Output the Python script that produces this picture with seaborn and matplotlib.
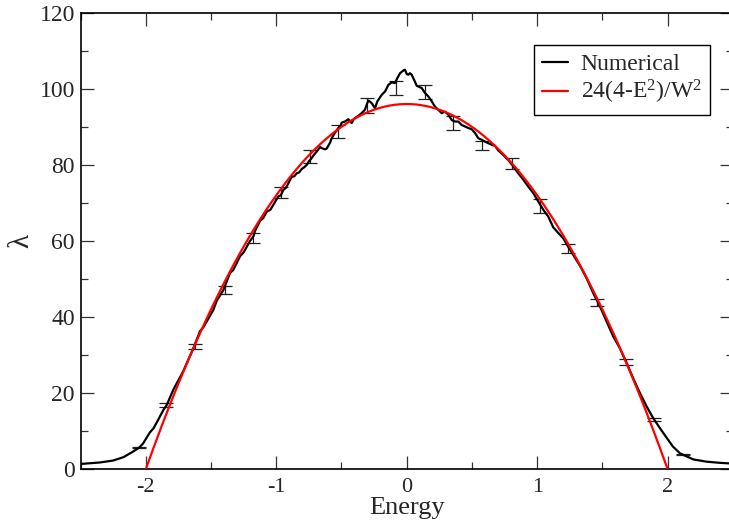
import numpy as np
import pandas as pd
import matplotlib
matplotlib.use("Agg")
import matplotlib.pyplot as plt
import seaborn as sns
from matplotlib.ticker import MultipleLocator

# Numerical spectrum lambda(E)
energy = [-2.50, -2.35, -2.25, -2.17, -2.10, -2.05, -2.02, -1.97, -1.94, -1.90,
          -1.865, -1.839, -1.789, -1.712, -1.66, -1.635, -1.584, -1.559, -1.52, -1.482,
          -1.456, -1.405, -1.354, -1.329, -1.277, -1.25, -1.201, -1.175, -1.163, -1.124,
          -1.10, -1.073, -1.045, -1.022, -0.984, -0.965, -0.946, -0.925, -0.907, -0.881,
          -0.862, -0.843, -0.825, -0.805, -0.785, -0.766, -0.748, -0.728, -0.71, -0.690,
          -0.664, -0.651, -0.626, -0.613, -0.601, -0.588, -0.575, -0.549, -0.524, -0.51,
          -0.498, -0.473, -0.447, -0.421, -0.41, -0.396, -0.371, -0.345, -0.320, -0.305,
          -0.294, -0.28, -0.268, -0.243, -0.225, -0.192, -0.166, -0.141, -0.115, -0.090,
          -0.072, -0.051, -0.026, -0.013, 0.000, 0.012, 0.025, 0.038, 0.056, 0.077,
          0.089, 0.115, 0.140, 0.166, 0.192, 0.217, 0.242, 0.268, 0.294, 0.319,
          0.345, 0.370, 0.395, 0.421, 0.447, 0.472, 0.498, 0.523, 0.549, 0.575,
          0.600, 0.625, 0.651, 0.677, 0.702, 0.740, 0.779, 0.817, 0.855, 0.894,
          0.932, 0.970, 1.008, 1.047, 1.085, 1.123, 1.162, 1.200, 1.238, 1.277,
          1.328, 1.379, 1.430, 1.481, 1.533, 1.583, 1.634, 1.686, 1.736, 1.788,
          1.839, 1.890, 1.941, 1.992, 2.04, 2.094, 2.196, 2.299, 2.40, 2.50]
lam = [1.4, 1.8, 2.3, 3.2, 4.6, 5.7, 6.8, 9.6, 10.8, 13.3,
       15.6, 16.9, 20.9, 25.8, 29.9, 31.8, 36.3, 37.3, 39.6, 41.9,
       44.3, 47.1, 51.6, 52.4, 56.0, 57.0, 60.0, 61.2, 62.6, 65.3,
       66.0, 67.7, 68.2, 69.5, 71.7, 72.0, 73.4, 74.0, 75.2, 76.9,
       77.0, 77.8, 78.0, 78.9, 79.4, 80.0, 81.0, 81.8, 82.7, 83.5,
       84.7, 84.4, 84.1, 84.3, 85.0, 85.8, 87.0, 88.5, 89.7, 90.0,
       91.1, 91.4, 92.0, 91.0, 91.8, 92.3, 92.9, 93.6, 94.5, 96.0,
       96.9, 96.6, 96.2, 94.9, 96.7, 98.4, 99.3, 101.0, 101.7, 101.5,
       102.8, 104.1, 104.8, 105.0, 103.9, 103.7, 104.1, 103.7, 102.4, 100.8,
       100.6, 100.2, 98.9, 98.0, 96.7, 95.3, 94.5, 93.6, 94.0, 93.2,
       91.8, 91.4, 91.4, 90.5, 90.1, 89.7, 89.4, 88.4, 87.0, 86.6,
       86.1, 85.7, 85.3, 85.0, 83.8, 82.6, 81.3, 79.6, 77.8, 76.1,
       74.3, 72.6, 70.4, 68.2, 66.4, 63.6, 62.1, 60.7, 58.5, 56.3,
       53.5, 50.2, 46.3, 42.8, 38.8, 34.9, 31.8, 27.9, 23.9, 20.0,
       16.5, 13.4, 10.8, 8.3, 6.0, 4.2, 2.6, 2.0, 1.7, 1.5]

# Sampled points with error bars
err_energy = [-2.05, -1.847, -1.622, -1.392, -1.178, -0.963, -0.741, -0.524, -0.302, -0.082,
              0.140, 0.357, 0.579, 0.805, 1.021, 1.238, 1.461, 1.678, 1.895, 2.12]
err_lam = [5.7, 16.8, 32.3, 47.2, 60.8, 72.7, 82.2, 88.9, 95.6, 100.2,
           99.2, 91.0, 85.1, 80.3, 69.2, 58.0, 43.8, 28.2, 13.1, 3.9]
err_size = [0.2, 0.5, 0.6, 1.0, 1.25, 1.5, 1.6, 1.7, 2.0, 1.9,
            1.85, 1.75, 1.3, 1.45, 1.9, 1.2, 0.9, 0.7, 0.35, 0.2]

# Analytic band result 24(4-E^2)/W^2
W = 1.0
e_fit = np.linspace(-2.0, 2.0, 401)
lam_fit = 24.0 * (4.0 - e_fit ** 2) / W ** 2

sns.set_theme(style="ticks")
plt.rcParams["font.family"] = ["Liberation Serif", "DejaVu Serif"]
plt.rcParams["mathtext.fontset"] = "custom"
plt.rcParams["mathtext.rm"] = "Liberation Serif"
plt.rcParams["mathtext.it"] = "Liberation Serif:italic"
plt.rcParams["axes.unicode_minus"] = False

fig = plt.figure(figsize=(7.29, 5.28), dpi=100)
ax = fig.add_axes([80.5 / 729, 1 - 469.3 / 528, 652.4 / 729, 456.6 / 528])

num_df = pd.DataFrame({"Energy": energy, "lambda": lam})
fit_df = pd.DataFrame({"Energy": e_fit, "lambda": lam_fit})

ax.errorbar(err_energy, err_lam, yerr=err_size, fmt="none", ecolor="#222222",
            elinewidth=0.9, capsize=4.8, capthick=0.9, zorder=2)
sns.lineplot(data=num_df, x="Energy", y="lambda", ax=ax, color="black",
             linewidth=1.6, label="Numerical", sort=False, zorder=3)
sns.lineplot(data=fit_df, x="Energy", y="lambda", ax=ax, color="#ff0000",
             linewidth=1.6, label="24(4-E$^2$)/W$^2$", sort=False, zorder=4)

ax.set_xlim(-2.5, 2.5)
ax.set_ylim(0, 120)
ax.xaxis.set_major_locator(MultipleLocator(1))
ax.xaxis.set_minor_locator(MultipleLocator(0.5))
ax.yaxis.set_major_locator(MultipleLocator(20))
ax.yaxis.set_minor_locator(MultipleLocator(10))

ax.tick_params(which="both", direction="in", top=True, right=True,
               color="#333333", width=0.9)
ax.tick_params(which="major", length=9.4)
ax.tick_params(which="minor", length=5.0)
ax.tick_params(axis="x", which="major", labelsize=16, pad=6)
ax.tick_params(axis="y", which="major", labelsize=17, pad=4)
for s in ax.spines.values():
    s.set_linewidth(1.2)
    s.set_color("black")

ax.set_xlabel("Energy", fontsize=19, labelpad=0)
ax.set_ylabel("λ", fontsize=21, labelpad=4)

leg = ax.legend(loc="upper right", bbox_to_anchor=(710 / 729, 1 - 45 / 528),
                bbox_transform=fig.transFigure, fontsize=17, frameon=True,
                fancybox=False, framealpha=1, edgecolor="black",
                handlelength=1.1, handletextpad=0.55, borderpad=0.35,
                labelspacing=0.15, borderaxespad=0)
leg.get_frame().set_linewidth(1.0)

fig.savefig("out.png", dpi=100)
